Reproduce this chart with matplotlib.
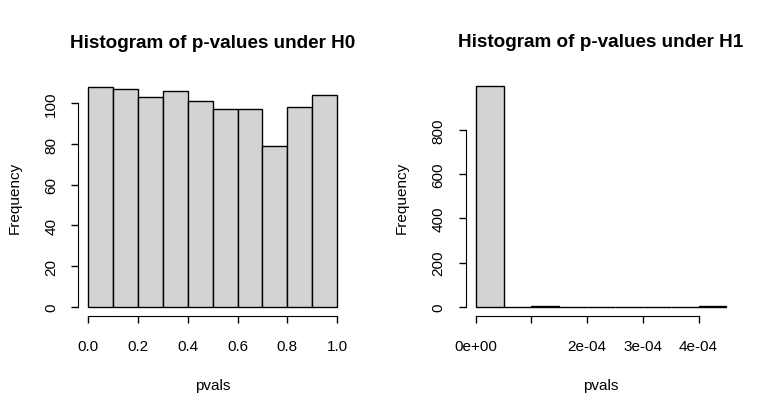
import numpy as np
import matplotlib
matplotlib.use("Agg")
import matplotlib.pyplot as plt

plt.rcParams['font.family'] = ['Liberation Sans', 'DejaVu Sans']

# histogram under H0: 10 bins of width 0.1
h0_edges = [0.0, 0.1, 0.2, 0.3, 0.4, 0.5, 0.6, 0.7, 0.8, 0.9, 1.0]
h0_counts = [108, 107, 103, 106, 101, 97, 97, 79, 98, 104]
h0_xticks = [0.0, 0.2, 0.4, 0.6, 0.8, 1.0]
h0_xticklabels = ['0.0', '0.2', '0.4', '0.6', '0.8', '1.0']
h0_yticks = [0, 20, 40, 60, 80, 100]

# histogram under H1: bins of width 5e-5
h1_edges = [0, 5e-5, 1e-4, 1.5e-4, 2e-4, 2.5e-4, 3e-4, 3.5e-4, 4e-4, 4.5e-4]
h1_counts = [998, 0, 1, 0, 0, 0, 0, 0, 1]
h1_xticks = [0, 1e-4, 2e-4, 3e-4, 4e-4]
h1_xticklabels = ['0e+00', '', '2e-04', '3e-04', '4e-04']
h1_yticks = [0, 200, 400, 600, 800]

fig = plt.figure(figsize=(7.74, 4.14), dpi=100)
ax1 = fig.add_axes([0.1013, 0.2355, 0.347, 0.573])
ax2 = fig.add_axes([0.6017, 0.2355, 0.3497, 0.575])


def r_hist(ax, edges, counts, xticks, xlabels, yticks, title):
    edges = np.array(edges)
    counts = np.array(counts)
    ax.bar(edges[:-1], counts, width=np.diff(edges), align='edge',
           color='#D3D3D3', edgecolor='black', linewidth=1)
    # R style 4% padding
    xr = edges[-1] - edges[0]
    yr = counts.max()
    ax.set_xlim(edges[0] - 0.04 * xr, edges[-1] + 0.04 * xr)
    ax.set_ylim(-0.04 * yr, 1.04 * yr)
    for s in ['top', 'right']:
        ax.spines[s].set_visible(False)
    ax.spines['left'].set_bounds(yticks[0], yticks[-1])
    ax.spines['bottom'].set_bounds(xticks[0], xticks[-1])
    ax.set_xticks(xticks)
    ax.set_xticklabels(xlabels)
    ax.set_yticks(yticks)
    ax.set_yticklabels([str(v) for v in yticks], rotation=90, va='center')
    ax.tick_params(length=5, width=1, labelsize=11)
    ax.tick_params(axis='x', pad=12)
    ax.tick_params(axis='y', pad=9.5)
    ax.set_xlabel('pvals', fontsize=11, labelpad=18)
    ax.set_ylabel('Frequency', fontsize=11, labelpad=16.5)
    ax.set_title(title, fontsize=13.6, fontweight='bold', pad=22.5)


r_hist(ax1, h0_edges, h0_counts, h0_xticks, h0_xticklabels, h0_yticks,
       'Histogram of p-values under H0')
r_hist(ax2, h1_edges, h1_counts, h1_xticks, h1_xticklabels, h1_yticks,
       'Histogram of p-values under H1')

plt.savefig('out.png', dpi=100)
